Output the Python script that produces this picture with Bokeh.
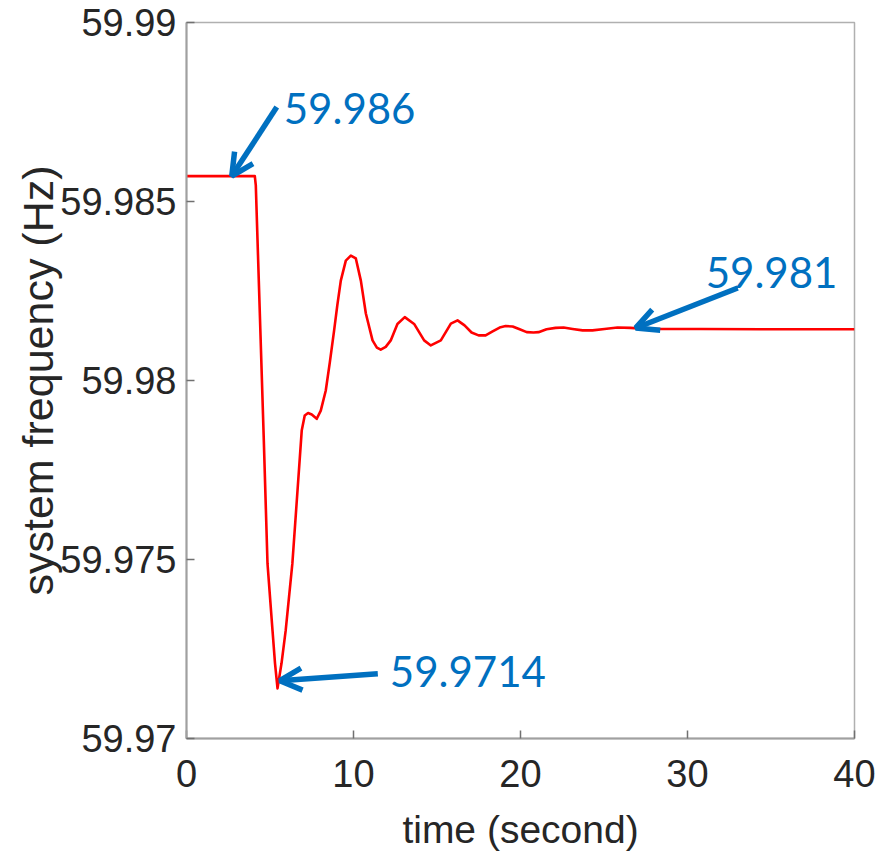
from bokeh.plotting import figure
from bokeh.models import Arrow, OpenHead, NumeralTickFormatter, FixedTicker, Range1d
from bokeh.core.properties import value
from bokeh.embed import file_html
from bokeh.resources import INLINE

# ---- data ----
time_s = [0, 4.09, 4.15, 4.63, 4.85, 5.15, 5.30, 5.45, 5.69, 5.94, 6.34, 6.90, 7.08,
          7.28, 7.50, 7.80, 8.04, 8.34, 8.58, 8.84, 9.03, 9.24, 9.54, 9.84, 10.14,
          10.44, 10.74, 11.14, 11.40, 11.63, 11.93, 12.23, 12.63, 13.07, 13.63, 14.23,
          14.63, 15.23, 15.83, 16.23, 16.65, 17.07, 17.49, 17.91, 18.33, 18.75, 19.11,
          19.53, 19.95, 20.37, 20.78, 21.08, 21.56, 22.10, 22.58, 23.12, 23.72, 24.31,
          25.03, 25.81, 26.59, 27.49, 28.8, 30.8, 34.4, 40]
freq_hz = [59.98571, 59.98571, 59.98545, 59.97832, 59.97489, 59.97302, 59.97210, 59.97140,
           59.97210, 59.97302, 59.97489, 59.97860, 59.97902, 59.97909, 59.97905, 59.97893,
           59.97916, 59.97972, 59.98050, 59.98140, 59.98210, 59.98279, 59.98335, 59.98349,
           59.98341, 59.98279, 59.98187, 59.98112, 59.98092, 59.98086, 59.98094, 59.98112,
           59.98158, 59.98177, 59.98158, 59.98112, 59.98098, 59.98112, 59.98159, 59.98168,
           59.98154, 59.98134, 59.98126, 59.98126, 59.98137, 59.98148, 59.98152, 59.98151,
           59.98143, 59.98135, 59.98134, 59.98135, 59.98143, 59.98147, 59.98148, 59.98144,
           59.98140, 59.98140, 59.98144, 59.98148, 59.98147, 59.98144, 59.98144, 59.98144,
           59.98143, 59.98143]
x_ticks = [0, 10, 20, 30, 40]
y_ticks = [59.97, 59.975, 59.98, 59.985, 59.99]
note_labels = ["59.986", "59.9714", "59.981"]
note_times = [2.71, 26.9]

FW, FH = 668, 716
X0, X1 = 0, 40
Y0, Y1 = 59.97, 59.99
PX_T = (X1 - X0) / FW
PX_F = (Y1 - Y0) / FH

p = figure(frame_width=FW, frame_height=FH,
           x_range=Range1d(X0, X1), y_range=Range1d(Y0, Y1),
           output_backend="svg", toolbar_location=None,
           min_border_left=186, min_border_top=22, min_border_right=28,
           min_border_bottom=112, background_fill_color="white",
           border_fill_color="white")

p.xgrid.visible = False
p.ygrid.visible = False
p.outline_line_color = "#b0b0b0"
p.outline_line_width = 1.5

for ax in (p.xaxis[0], p.yaxis[0]):
    ax.axis_line_color = "#a0a0a0"
    ax.axis_line_width = 2
    ax.major_tick_in = 8
    ax.major_tick_out = 0
    ax.major_tick_line_color = "#707070"
    ax.major_tick_line_width = 1.5
    ax.minor_tick_line_color = None
    ax.major_label_text_font = "Liberation Sans"
    ax.major_label_text_font_size = "38px"
    ax.major_label_text_color = "#262626"
    ax.axis_label_text_font = "Liberation Sans"
    ax.axis_label_text_font_style = "normal"
    ax.axis_label_text_color = "#262626"

p.xaxis.ticker = FixedTicker(ticks=x_ticks)
p.yaxis.ticker = FixedTicker(ticks=y_ticks)
p.yaxis.formatter = NumeralTickFormatter(format="0.[000]")
p.xaxis.major_label_standoff = 21
p.yaxis.major_label_standoff = 10
p.xaxis.axis_label = "time (second)"
p.yaxis.axis_label = "system frequency (Hz)"
p.xaxis.axis_label_text_font_size = "39px"
p.yaxis.axis_label_text_font_size = "43px"
p.xaxis.axis_label_standoff = 18
p.yaxis.axis_label_standoff = -5

p.line(time_s, freq_hz, line_color="#ff0000", line_width=2.6, line_join="round")

# annotation anchors derived from the series
i_min = freq_hz.index(min(freq_hz))
tips = [
    (note_times[0], freq_hz[0]),
    (time_s[i_min] + 2.3 * PX_T, freq_hz[i_min] + 7.7 * PX_F),
    (note_times[1], freq_hz[-5] + 1 * PX_F),
]
# pixel offsets (dx right, dy down) for arrow tails and text (left, vertical middle)
tail_off = [(45, -69), (98, -7), (102, -40)]
text_off = [(52, -68), (110, -9), (70, -55)]

def shift(pt, d):
    return pt[0] + d[0] * PX_T, pt[1] - d[1] * PX_F

BLUE = "#0070c0"
for tip, toff in zip(tips, tail_off):
    sx, sy = shift(tip, toff)
    p.add_layout(Arrow(end=OpenHead(line_color=BLUE, line_width=5.5, size=22),
                       x_start=sx, y_start=sy, x_end=tip[0], y_end=tip[1],
                       line_color=BLUE, line_width=5.5))

txt = [shift(tip, o) for tip, o in zip(tips, text_off)]
p.text(x=[t[0] for t in txt], y=[t[1] for t in txt], text=note_labels,
       text_font=value("Lato"), text_font_size="42px", text_color=BLUE,
       text_baseline="middle", text_align="left")

open("out.html", "w").write(file_html(p, INLINE))
